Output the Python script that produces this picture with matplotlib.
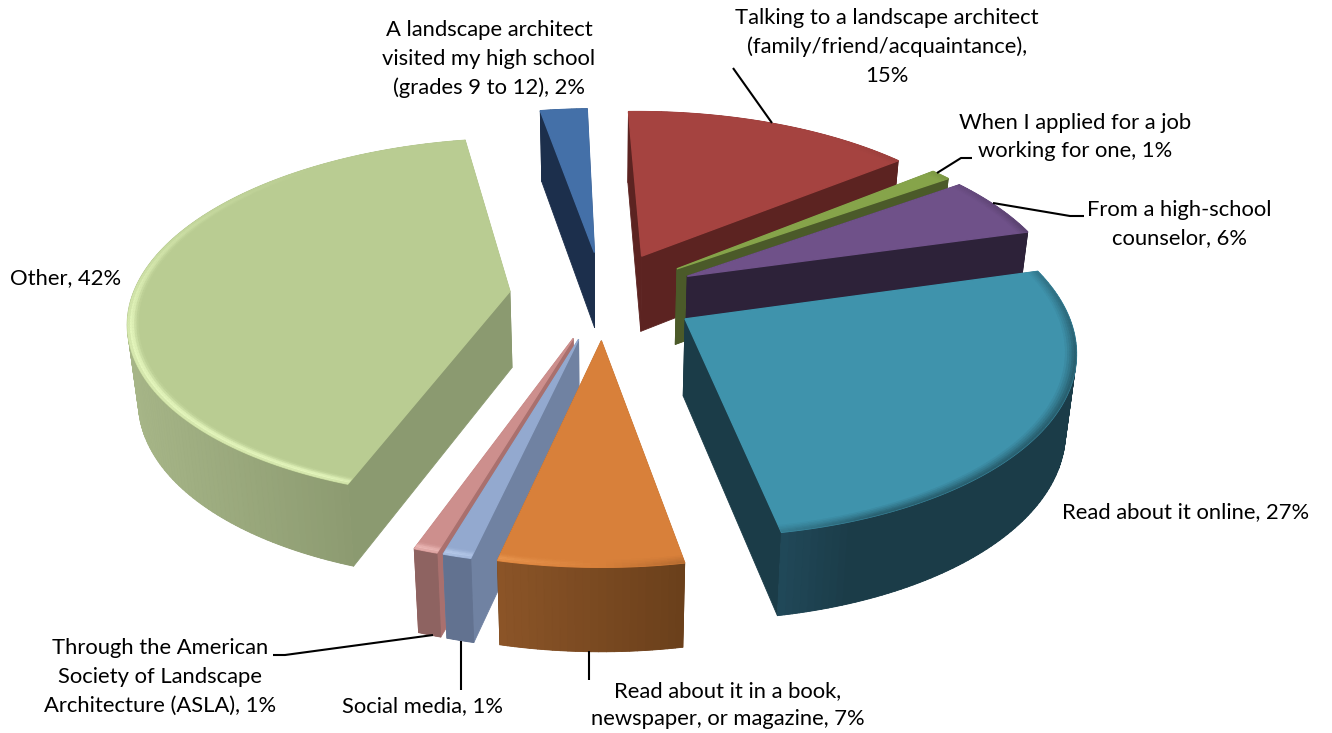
import numpy as np
import matplotlib
matplotlib.use('Agg')
import matplotlib.pyplot as plt
from matplotlib.collections import PolyCollection
from matplotlib.colors import to_rgb

names = ['A landscape architect\nvisited my high school\n(grades 9 to 12)',
         'Talking to a landscape architect\n(family/friend/acquaintance),\n',
         'When I applied for a job\nworking for one',
         'From a high-school\ncounselor',
         'Read about it online',
         'Read about it in a book,\nnewspaper, or magazine',
         'Social media',
         'Through the American\nSociety of Landscape\nArchitecture (ASLA)',
         'Other']
labels_pct = [2, 15, 1, 6, 27, 7, 1, 1, 42]
shares = [2.36, 14.6, 1.0, 5.5, 26.45, 6.5, 1.0, 0.85, 41.8]

tops = ['#4470a8', '#a54340', '#86a44a', '#6f5189', '#3f93ac', '#d8803a', '#93a9cf', '#cd8f8d', '#b9cc92']
glows = ['#7fa6dc', '#d07a76', '#b4d274', '#9a7fb6', '#3f93ac', '#f5a45c', '#c4d6f5', '#f2c0be', '#e4f6bc']
cuts = ['#1c2f4c', '#5c2321', '#4b5a29', '#2d2239', '#1b3c48', '#6b401b', '#7082a2', '#a9706e', '#8b9a70']
wall_l = ['#1c2f4c', '#5c2321', '#4b5a29', '#2d2239', '#21495a', '#8c5528', '#627290', '#8e6361', '#a7b688']
wall_r = ['#1c2f4c', '#5c2321', '#4b5a29', '#2d2239', '#1b3c48', '#6b401b', '#627290', '#8e6361', '#7f8d65']
wall_span = [1, 1, 1, 1, 0.25, 1, 1, 1, 1]
draw_order = [0, 1, 2, 3, 4, 8, 7, 6, 5]

label_xy = [(489, 59), (887, 47), (1075, 137), (1179, 224), (1062, 512),
            (728, 705), (422, 706), (160, 677), (10, 278)]
label_ha = ['center', 'center', 'center', 'center', 'left', 'center', 'center', 'center', 'left']
leaders = {1: [(733, 68), (772, 123)],
           2: [(937, 173), (961, 158), (972, 158)],
           3: [(993, 203), (1070, 216), (1084, 216)],
           5: [(589, 651), (589, 680)],
           6: [(461, 641), (461, 690)],
           7: [(433, 635), (285, 655), (273, 655)]}

start_angle = -10.0
explode = 0.25
cx, cy = 603.5, 295
scale_x, scale_y, persp = 377, 177, 0.15


def project(X, Y):
    w = 1 + persp * Y
    return cx + scale_x * X / w, cy - scale_y * Y / w


def drop(x, y):
    # bottom of the pie: shifted down and pulled slightly to the middle
    return cx + (x - cx) * 0.977, y + 75 + 0.03 * (y - 250)


def mix(a, b, t):
    return tuple((1 - t) * np.array(to_rgb(a)) + t * np.array(to_rgb(b)))


fig = plt.figure(figsize=(13.32, 7.33), dpi=100)
ax = fig.add_axes([0, 0, 1, 1])
ax.set_xlim(0, 1332)
ax.set_ylim(733, 0)
ax.axis('off')

total = sum(shares)
edges = start_angle + np.cumsum([0] + shares) * 360 / total

for i in draw_order:
    a0, a1 = edges[i], edges[i + 1]
    mid = np.radians((a0 + a1) / 2)
    ex, ey = explode * np.sin(mid), explode * np.cos(mid)
    th = np.radians(np.linspace(a0, a1, max(int(a1 - a0) + 2, 3)))

    ax_, ay_ = project(ex, ey)
    rx, ry = project(ex + np.sin(th), ey + np.cos(th))
    bax, bay = drop(ax_, ay_)
    brx, bry = drop(rx, ry)

    # solid wall first so no white shows between the gradient strips
    ax.fill(np.r_[rx, brx[::-1]], np.r_[ry, bry[::-1]], color=mix(wall_l[i], wall_r[i], 0.5), lw=0)

    # cut faces and outer wall, far ones first
    faces, cols = [], []
    for k in (0, -1):
        faces.append([(ax_, ay_), (rx[k], ry[k]), (brx[k], bry[k]), (bax, bay)])
        cols.append(to_rgb(cuts[i]))
    span = max(rx.max() - rx.min(), 1)
    for k in range(len(th) - 1):
        faces.append([(rx[k], ry[k]), (rx[k + 1], ry[k + 1]), (brx[k + 1], bry[k + 1]), (brx[k], bry[k])])
        t = min((rx[k] - rx.min()) / span / wall_span[i], 1)
        cols.append(mix(wall_l[i], wall_r[i], t))
    idx = sorted(range(len(faces)), key=lambda n: np.mean([p[1] for p in faces[n]]))
    ax.add_collection(PolyCollection([faces[n] for n in idx], facecolors=[cols[n] for n in idx],
                                     edgecolors=[cols[n] for n in idx], linewidths=0.6))

    # top
    ax.fill(np.r_[ax_, rx], np.r_[ay_, ry], color=tops[i], lw=1.0)

    # bevel along the rim: bright on the left, dark on the right
    shade = np.clip(-np.sin(th) * 2.5, -1, 1) * np.clip(0.8 - np.cos(th), 0, 1)
    radii = np.linspace(0.972, 1.0, 6)
    glow_profile = [0.15, 0.45, 0.85, 1.0, 0.7]
    dark_profile = [0.15, 0.35, 0.55, 0.8, 1.0]
    quads, qcols = [], []
    for b in range(5):
        x0, y0 = project(ex + radii[b] * np.sin(th), ey + radii[b] * np.cos(th))
        x1, y1 = project(ex + radii[b + 1] * np.sin(th), ey + radii[b + 1] * np.cos(th))
        for k in range(len(th) - 1):
            s = (shade[k] + shade[k + 1]) / 2
            if s > 0:
                col = mix(tops[i], glows[i], s * glow_profile[b])
            else:
                col = mix(tops[i], 'black', -s * dark_profile[b] * 0.35)
            quads.append([(x0[k], y0[k]), (x0[k + 1], y0[k + 1]), (x1[k + 1], y1[k + 1]), (x1[k], y1[k])])
            qcols.append(col)
    ax.add_collection(PolyCollection(quads, facecolors=qcols, edgecolors=qcols, linewidths=0.3))

for pts in leaders.values():
    ax.plot(*zip(*pts), color='black', lw=1.5, solid_capstyle='butt')

for name, pct, (x, y), ha in zip(names, labels_pct, label_xy, label_ha):
    if name.endswith('\n'):
        txt = f'{name}{pct}%'
    else:
        txt = f'{name}, {pct}%'
    ax.text(x, y, txt, ha=ha, va='center', ma='center', family='Lato', fontsize=15.8, linespacing=1.55, color='black')

fig.savefig('out.png', dpi=100)
